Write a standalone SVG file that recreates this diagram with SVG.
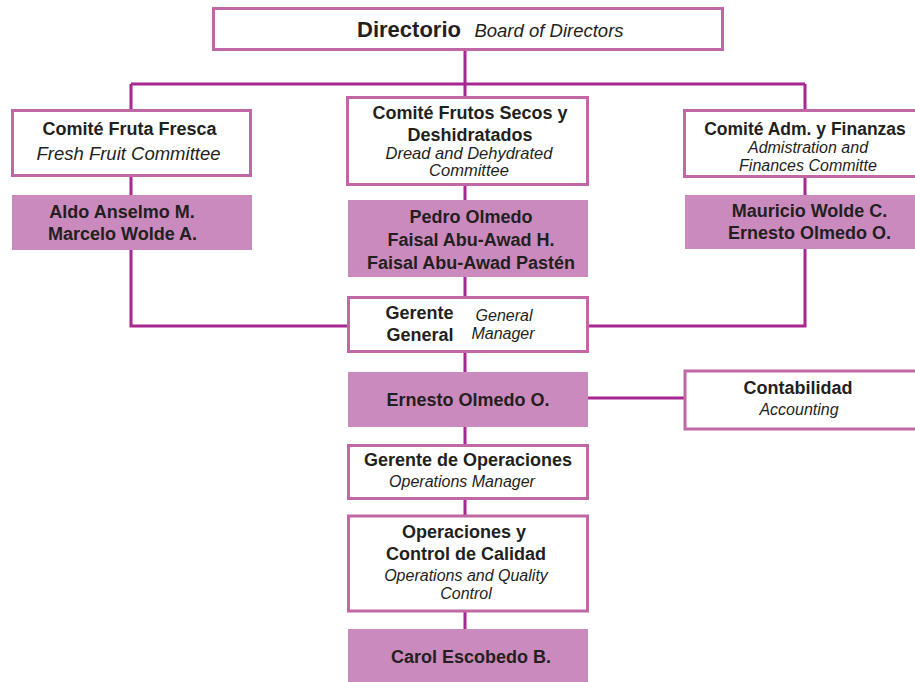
<svg xmlns="http://www.w3.org/2000/svg" width="915" height="682" viewBox="0 0 915 682">
<style>
.box{fill:#fff;stroke:#c267a6;stroke-width:3}
.fill{fill:#cb8abd;stroke:none}
.ln{stroke:#a82690;stroke-width:3;fill:none}
text{font-family:"Liberation Sans",Arial,sans-serif;fill:#231f20;text-anchor:middle}
.b{font-weight:bold;font-size:18px}
.i{font-style:italic;font-size:16px}
</style>
<rect width="915" height="682" fill="#fff"/>
<g id="connectors">
<path class="ln" d="M465 50V97M131 84H805M131 84V110M805 84V110"/>
<path class="ln" d="M465 185V200M465 277V297M465 352V372M465 427V444M465 499V515M465 611V629"/>
<path class="ln" d="M131 177V195M131 250V326H348M805 177V195M805 249V326H588"/>
<path class="ln" d="M588 398H684"/>
</g>
<g id="directorio">
<rect class="box" x="213.5" y="8.5" width="509" height="41"/>
<text x="409" y="37" class="b" style="font-size:22px">Directorio</text>
<text x="549" y="37" class="i" style="font-size:18.5px">Board of Directors</text>
</g>
<g id="comite-fruta">
<rect class="box" x="12.5" y="110.5" width="238" height="65"/>
<text x="129.5" y="135" class="b">Comité Fruta Fresca</text>
<text x="128.5" y="160" class="i" style="font-size:18.5px">Fresh Fruit Committee</text>
</g>
<g id="fruta-members">
<rect class="fill" x="12" y="195" width="240" height="55"/>
<text x="122" y="218" class="b">Aldo Anselmo M.</text>
<text x="122.5" y="240" class="b">Marcelo Wolde A.</text>
</g>
<g id="comite-secos">
<rect class="box" x="347.5" y="97.5" width="240" height="87"/>
<text x="470" y="119" class="b">Comité Frutos Secos y</text>
<text x="470" y="141" class="b">Deshidratados</text>
<text x="469" y="159" class="i" style="font-size:16.5px">Dread and Dehydrated</text>
<text x="469" y="176" class="i" style="font-size:16.5px">Committee</text>
</g>
<g id="secos-members">
<rect class="fill" x="348" y="200" width="240" height="77"/>
<text x="471" y="223" class="b">Pedro Olmedo</text>
<text x="471" y="246" class="b">Faisal Abu-Awad H.</text>
<text x="471" y="268.5" class="b">Faisal Abu-Awad Pastén</text>
</g>
<g id="comite-adm">
<rect class="box" x="684.5" y="110.5" width="236" height="66"/>
<text x="805" y="135" class="b" style="font-size:17.5px">Comité Adm. y Finanzas</text>
<text x="808" y="153" class="i">Admistration and</text>
<text x="808" y="170.5" class="i">Finances Committe</text>
</g>
<g id="adm-members">
<rect class="fill" x="685" y="195" width="230" height="54"/>
<text x="809.5" y="217" class="b">Mauricio Wolde C.</text>
<text x="809.5" y="239" class="b">Ernesto Olmedo O.</text>
</g>
<g id="gerente-general">
<rect class="box" x="348.5" y="297.5" width="239" height="54"/>
<text x="419.5" y="319" class="b">Gerente</text>
<text x="420" y="341" class="b">General</text>
<text x="504" y="321" class="i">General</text>
<text x="503" y="339" class="i">Manager</text>
</g>
<g id="gg-person">
<rect class="fill" x="348" y="372" width="240" height="55"/>
<text x="468" y="406" class="b">Ernesto Olmedo O.</text>
</g>
<g id="contabilidad">
<rect class="box" x="685" y="371" width="236" height="58"/>
<text x="798" y="394" class="b">Contabilidad</text>
<text x="799" y="415" class="i">Accounting</text>
</g>
<g id="gerente-operaciones">
<rect class="box" x="348.5" y="445.5" width="239" height="53"/>
<text x="468" y="466" class="b">Gerente de Operaciones</text>
<text x="462" y="487" class="i">Operations Manager</text>
</g>
<g id="operaciones-calidad">
<rect class="box" x="348.5" y="516" width="239" height="95"/>
<text x="464" y="538" class="b">Operaciones y</text>
<text x="466" y="560" class="b">Control de Calidad</text>
<text x="466" y="581" class="i">Operations and Quality</text>
<text x="466" y="598.5" class="i">Control</text>
</g>
<g id="calidad-person">
<rect class="fill" x="348" y="629" width="240" height="53"/>
<text x="471" y="663" class="b">Carol Escobedo B.</text>
</g>
</svg>
